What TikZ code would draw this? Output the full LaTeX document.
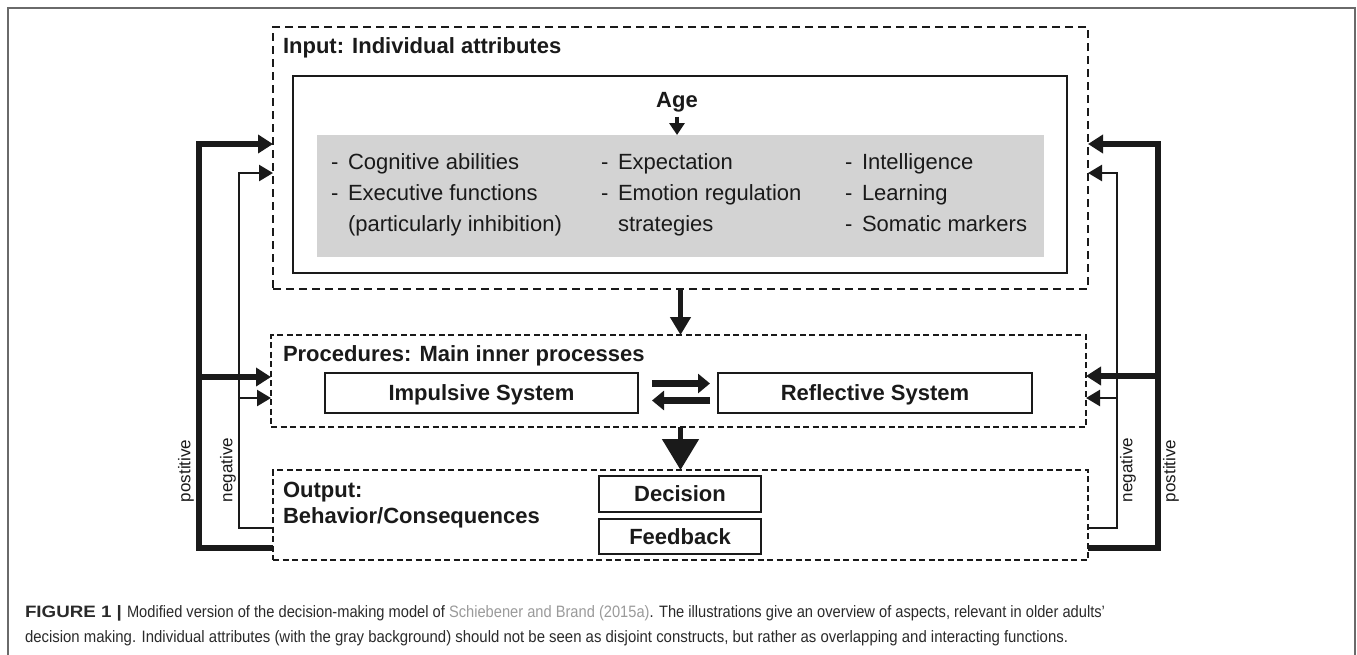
\documentclass[tikz,border=0pt]{standalone}
\usepackage{fontspec}
\setmainfont{Liberation Sans}
\usetikzlibrary{arrows.meta,calc}
\definecolor{ink}{HTML}{1A1A1A}
\definecolor{graybg}{HTML}{D3D3D3}
\definecolor{framec}{HTML}{6A6A6A}
\definecolor{capc}{HTML}{2A2A2A}
\definecolor{citec}{HTML}{9A9A9A}
\begin{document}
\begin{tikzpicture}[x=1pt,y=-1pt,
  every node/.style={inner sep=0pt, outer sep=0pt, text=ink},
  body/.style={font=\fontsize{22}{26}\selectfont, anchor=base west},
  ttl/.style={font=\fontsize{22}{26}\selectfont\bfseries, anchor=base west},
  capt/.style={font=\fontsize{16.5}{20}\selectfont, anchor=base west, text=capc},
  bigdash/.style={draw=ink, line width=1.4pt, dash pattern=on 8pt off 5pt},
  smalldash/.style={draw=ink, line width=1.3pt, dash pattern=on 6pt off 3.5pt},
  solidbox/.style={draw=ink, line width=1.5pt},
  sysbox/.style={draw=ink, line width=1.5pt, font=\fontsize{22}{26}\selectfont\bfseries, text height=15.75pt, text depth=0pt},
  posl/.style={draw=ink, line width=6pt, line join=miter, -{Triangle[length=15pt,width=18pt]}},
  negl/.style={draw=ink, line width=2.5pt, line join=miter, -{Triangle[length=14pt,width=16pt]}},
  fblabel/.style={rotate=90, anchor=west, font=\fontsize{17}{20}\selectfont},
]
\useasboundingbox (0,0) rectangle (1357,654);
% outer frame
\draw[framec, line width=1.5pt] (8,700) -- (8,8) -- (1355,8) -- (1355,700);

% input block
\node[bigdash, minimum width=815pt, minimum height=262pt] (inp) at (680.5,158) {};
\node[ttl] (inptitle) at (283,53) {Input: Individual attributes};
\node[solidbox, minimum width=774pt, minimum height=197pt] (inner) at (680,174.5) {};
\node[fill=graybg, minimum width=727pt, minimum height=122pt] (gray) at (680.5,196) {};
\node[ttl, anchor=base] (age) at (677,107) {Age};
\draw[draw=ink, line width=3.5pt, -{Triangle[length=12pt,width=15pt]}] ($(age.south)+(0,5)$) -- (age.south |- gray.north);

% attribute lists
\node[body] (d11) at (331,169) {-};
\node[body] (t11) at (348,169) {Cognitive abilities};
\node[body] (d12) at (331,200) {-};
\node[body] (t12) at (348,200) {Executive functions};
\node[body] (t13) at (348,231) {(particularly inhibition)};
\node[body] (d21) at (601,169) {-};
\node[body] (t21) at (618,169) {Expectation};
\node[body] (d22) at (601,200) {-};
\node[body] (t22) at (618,200) {Emotion regulation};
\node[body] (t23) at (618,231) {strategies};
\node[body] (d31) at (845,169) {-};
\node[body] (t31) at (862,169) {Intelligence};
\node[body] (d32) at (845,200) {-};
\node[body] (t32) at (862,200) {Learning};
\node[body] (d33) at (845,231) {-};
\node[body] (t33) at (862,231) {Somatic markers};

% procedures block
\node[smalldash, minimum width=815pt, minimum height=92pt] (proc) at (678.5,381) {};
\node[ttl] (proctitle) at (283,361) {Procedures: Main inner processes};
\node[sysbox, minimum width=313pt, minimum height=40pt] (imp) at (481.5,393) {Impulsive System};
\node[sysbox, minimum width=314pt, minimum height=40pt] (ref) at (875,393) {Reflective System};
\draw[draw=ink, line width=7pt, -{Triangle[length=12pt,width=19pt]}] ($(imp.east)+(14,-9.5)$) -- ($(ref.west)+(-8,-9.5)$);
\draw[draw=ink, line width=7pt, -{Triangle[length=12pt,width=19pt]}] ($(ref.west)+(-8,7.5)$) -- ($(imp.east)+(14,7.5)$);

% output block
\node[smalldash, minimum width=815pt, minimum height=90pt] (out) at (680.5,515) {};
\node[ttl] (outtitle1) at (283,497) {Output:};
\node[ttl] (outtitle2) at (283,523) {Behavior/Consequences};
\node[sysbox, minimum width=162pt, minimum height=36pt] (dec) at (680,494) {Decision};
\node[sysbox, minimum width=162pt, minimum height=35pt] (fb) at (680,536.5) {Feedback};

% vertical flow arrows
\draw[draw=ink, line width=4.5pt, -{Triangle[length=18pt,width=20pt]}] (inp.south) -- (inp.south |- proc.north);
\draw[draw=ink, line width=5pt, -{Triangle[length=31pt,width=36pt]}] (out.north |- proc.south) -- (out.north);

% left feedback loops
\coordinate (LPb) at (199,548); \coordinate (LPt) at (199,144); \coordinate (LPm) at (199,377);
\coordinate (LNb) at (239,528); \coordinate (LNt) at (239,173); \coordinate (LNm) at (239,398);
\draw[negl] (out.west |- LNb) -- (LNb) -- (LNt) -- (inp.west |- LNt);
\draw[negl] (LNm) -- (proc.west |- LNm);
\draw[posl] (out.west |- LPb) -- (LPb) -- (LPt) -- (inp.west |- LPt);
\draw[posl] (LPm) -- (proc.west |- LPm);
\node[fblabel] (lpl) at (186,502) {postitive};
\node[fblabel] (lnl) at (228,502) {negative};

% right feedback loops
\coordinate (RPb) at (1158,548); \coordinate (RPt) at (1158,144); \coordinate (RPm) at (1158,376);
\coordinate (RNb) at (1117,528); \coordinate (RNt) at (1117,173); \coordinate (RNm) at (1117,398);
\draw[negl] (out.east |- RNb) -- (RNb) -- (RNt) -- (inp.east |- RNt);
\draw[negl] (RNm) -- (proc.east |- RNm);
\draw[posl] (out.east |- RPb) -- (RPb) -- (RPt) -- (inp.east |- RPt);
\draw[posl] (RPm) -- (proc.east |- RPm);
\node[fblabel] (rnl) at (1128,502) {negative};
\node[fblabel] (rpl) at (1171,502) {postitive};

% caption
\node[capt] (cap0) at (25,617) {\resizebox{97pt}{\height}{\textbf{FIGURE 1 |}}};
\node[capt] (cap1) at (127,617)
  {\resizebox{978pt}{\height}{Modified version of the decision-making model of \textcolor{citec}{Schiebener and Brand (2015a)}. The illustrations give an overview of aspects, relevant in older adults’}};
\node[capt] (cap2) at (25,642)
  {\resizebox{1043pt}{\height}{decision making. Individual attributes (with the gray background) should not be seen as disjoint constructs, but rather as overlapping and interacting functions.}};
\end{tikzpicture}
\end{document}
